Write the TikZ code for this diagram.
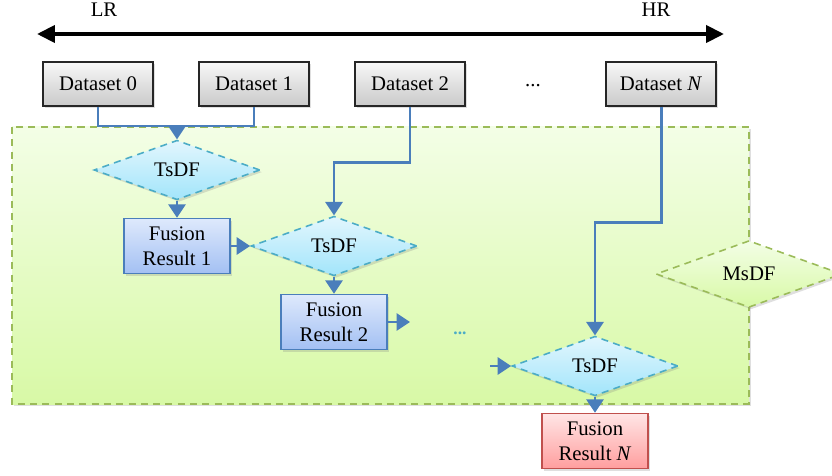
\documentclass[tikz,border=0pt]{standalone}
\usepackage{fontspec}
\setmainfont{Liberation Serif}
\usepackage{tikz}
\usetikzlibrary{arrows.meta, shapes.geometric, shadows}
\definecolor{flowblue}{HTML}{4A7EBB}
\definecolor{tsdfline}{HTML}{4BACC6}
\definecolor{zoneline}{HTML}{9BBB59}
\definecolor{redline}{HTML}{C0504D}
\definecolor{zonetop}{HTML}{F3FEE6}
\definecolor{zonebot}{HTML}{D8F9A6}
\definecolor{restop}{HTML}{DEE9FC}
\definecolor{resbot}{HTML}{A3C0F3}
\definecolor{tsdftop}{HTML}{E2F6FD}
\definecolor{tsdfbot}{HTML}{A2E5FB}
\tikzset{
    softshadow/.style={drop shadow={opacity=0.25, shadow xshift=1.2pt, shadow yshift=-1.2pt}},
    dataset/.style={draw=black!85, line width=0.8pt, minimum width=2.2cm, minimum height=0.88cm,
        top color=gray!6, bottom color=gray!42, softshadow},
    result/.style={draw=flowblue, line width=0.8pt, minimum width=2.12cm, minimum height=1.1cm,
        align=center, inner sep=1pt, top color=restop, bottom color=resbot, softshadow},
    final/.style={result, draw=redline, top color=red!10!white, bottom color=red!38!white},
    tsdf/.style={diamond, draw=tsdfline, dashed, dash pattern=on 4pt off 3pt, line width=0.9pt,
        inner sep=0pt, minimum width=3.32cm, minimum height=1.06cm,
        top color=tsdftop, bottom color=tsdfbot, softshadow},
    msdf/.style={tsdf, draw=zoneline, minimum width=3.72cm, minimum height=1.08cm,
        top color=zonetop, bottom color=zonebot},
    zone/.style={draw=zoneline, dashed, dash pattern=on 4pt off 3pt, line width=0.9pt,
        top color=zonetop, bottom color=zonebot, softshadow},
    flow/.style={flowblue, line width=1.7pt, -{Triangle[length=0.27cm, width=0.34cm]}},
    link/.style={flowblue, line width=1.7pt},
    resaxis/.style={black, line width=2.3pt, {Triangle[length=0.36cm, width=0.34cm]}-{Triangle[length=0.36cm, width=0.34cm]}}
}

\begin{document}
\begin{tikzpicture}[x=0.02cm, y=-0.02cm, font=\fontsize{11.8}{14.2}\selectfont]
    \useasboundingbox (0,0) rectangle (832,476);

    % resolution axis
    \coordinate (lo) at (37,34);
    \coordinate (hi) at (724,34);
    \draw[resaxis] (lo) -- (hi);
    \node (lr) at (104,10) {LR};
    \node (hr) at (656,10) {HR};

    % fusion area
    \draw[zone] (12,127) rectangle (749,404);
    \node[msdf] (ms) at (749,274) {MsDF};

    \node[dataset] (d0) at (98,84) {Dataset 0};
    \node[dataset] (d1) at (254,84) {Dataset 1};
    \node[dataset] (d2) at (410,84) {Dataset 2};
    \node (dd) at (533,86) {...};
    \node[dataset] (dn) at (661,84) {Dataset \textit{N}};

    \node[tsdf] (t1) at (177,170) {TsDF};
    \node[result] (r1) at (177,246) {Fusion\\Result 1};
    \node[tsdf] (t2) at (334,246) {TsDF};
    \node[result] (r2) at (334,322) {Fusion\\Result 2};
    \node[text=tsdfline, font=\normalsize\bfseries] (dots) at (460,333) {...};
    \node[tsdf] (tn) at (595,366) {TsDF};
    \node[final] (rn) at (595,441) {Fusion\\Result \textit{N}};

    \coordinate (j01) at (177,126);
    \coordinate (out2) at (410,322);
    \coordinate (inn) at (490,366);

    \draw[link] (d0.south) |- (j01) -| (d1.south);
    \draw[flow] (j01) -- (t1.north);
    \draw[flow] (t1.south) -- (r1.north);
    \draw[flow] (r1.east) -- (t2.west);
    \draw[flow] (d2.south) -- ++(0,56) -| (t2.north);
    \draw[flow] (t2.south) -- (r2.north);
    \draw[flow] (r2.east) -- (out2);
    \draw[flow] (inn) -- (tn.west);
    \draw[flow] (dn.south) -- ++(0,116) -| (tn.north);
    \draw[flow] (tn.south) -- (rn.north);
\end{tikzpicture}
\end{document}
